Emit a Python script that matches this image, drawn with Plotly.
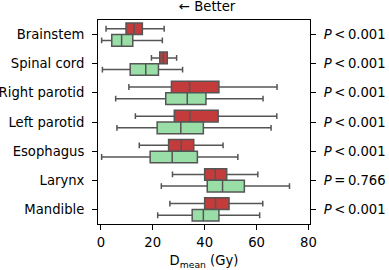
import plotly.graph_objects as go

categories = ["Brainstem", "Spinal cord", "Right parotid", "Left parotid",
              "Esophagus", "Larynx", "Mandible"]
p_labels = ["<i>P</i>\u2009&lt;\u20090.001", "<i>P</i>\u2009&lt;\u20090.001",
            "<i>P</i>\u2009&lt;\u20090.001", "<i>P</i>\u2009&lt;\u20090.001",
            "<i>P</i>\u2009&lt;\u20090.001", "<i>P</i>\u2009=\u20090.766",
            "<i>P</i>\u2009&lt;\u20090.001"]

red_lower = [2.0, 19.5, 10.8, 13.3, 14.8, 27.6, 26.6]
red_q1 = [9.7, 22.7, 27.2, 28.3, 26.1, 40.0, 40.0]
red_med = [12.8, 24.0, 34.2, 34.3, 31.0, 44.1, 44.2]
red_q3 = [16.0, 25.6, 45.5, 45.2, 35.8, 48.5, 49.4]
red_upper = [24.4, 29.2, 67.9, 67.8, 47.1, 60.5, 62.4]

green_lower = [0.3, 0.6, 5.7, 6.2, 0.3, 23.3, 21.9]
green_q1 = [4.2, 11.3, 25.0, 21.7, 19.0, 41.0, 35.2]
green_med = [8.0, 17.3, 33.3, 30.8, 27.5, 46.9, 39.5]
green_q3 = [12.3, 22.2, 40.5, 39.5, 37.2, 55.3, 45.5]
green_upper = [23.7, 31.5, 62.5, 65.6, 52.8, 72.7, 61.2]

x_ticks = [0, 20, 40, 60, 80]

FONT = "DejaVu Sans"
FS = 13.2
EDGE = "#555555"
RED = "#C43B3C"
GREEN = "#98DEA6"

fig = go.Figure()
for name, lo, q1, med, q3, up, col in [
    ("A", red_lower, red_q1, red_med, red_q3, red_upper, RED),
    ("B", green_lower, green_q1, green_med, green_q3, green_upper, GREEN),
]:
    fig.add_trace(go.Box(
        name=name, y=categories, orientation="h",
        q1=q1, median=med, q3=q3, lowerfence=lo, upperfence=up,
        fillcolor=col, line=dict(color=EDGE, width=1.5),
        whiskerwidth=0.5, boxpoints=False, showlegend=False,
        hoverinfo="skip",
    ))

# invisible trace to anchor the right-hand P-value axis
fig.add_trace(go.Scatter(
    x=red_med, y=list(range(len(categories))), yaxis="y2", mode="markers",
    marker=dict(opacity=0, size=1), showlegend=False, hoverinfo="skip",
))

fig.update_layout(
    width=389, height=270,
    margin=dict(l=98, r=79, t=20, b=46),
    paper_bgcolor="white", plot_bgcolor="white",
    font=dict(family=FONT, size=FS, color="black"),
    boxmode="group", boxgap=0.2, boxgroupgap=0,
    xaxis=dict(
        range=[-1.1, 80.6], tickvals=x_ticks, ticks="outside", ticklen=5,
        tickwidth=1, tickcolor="black", showline=True, linecolor="black",
        linewidth=1, mirror=True, showgrid=False, zeroline=False,
        automargin=False, ticklabelstandoff=1,
        title=dict(text="D<sub>mean</sub> (Gy)", standoff=8,
                   font=dict(family=FONT, size=FS)),
    ),
    yaxis=dict(
        categoryorder="array", categoryarray=categories,
        range=[6.5, -0.5], ticks="outside", ticklen=5, tickwidth=1,
        tickcolor="black", showline=True, linecolor="black", linewidth=1,
        mirror=True, showgrid=False, zeroline=False, automargin=False,
        ticklabelstandoff=5,
    ),
    yaxis2=dict(
        overlaying="y", side="right", range=[6.5, -0.5],
        tickvals=list(range(len(categories))), ticktext=p_labels,
        ticks="outside", ticklen=5, tickwidth=1, tickcolor="black",
        showline=False, showgrid=False, zeroline=False, automargin=False,
        ticklabelstandoff=5,
    ),
    annotations=[dict(
        text="\u2190 Better", xref="paper", yref="paper", x=0.515, y=1,
        xanchor="center", yanchor="middle", yshift=14, showarrow=False,
        font=dict(family=FONT, size=FS),
    )],
)

fig.write_html("out.html", config={"displayModeBar": False},
               post_script="document.body.style.margin='0px';")
